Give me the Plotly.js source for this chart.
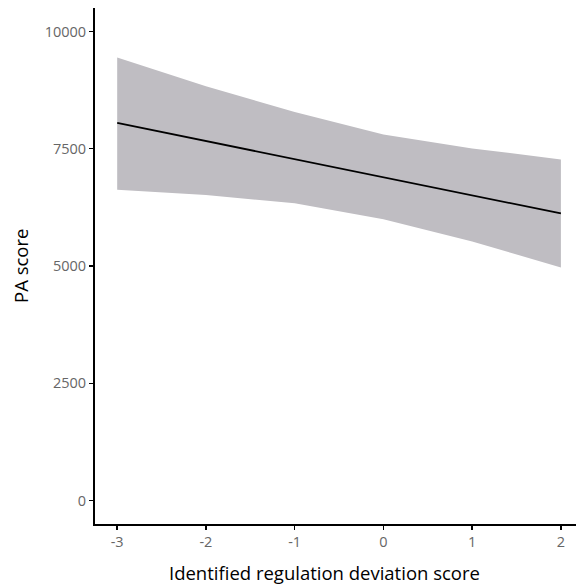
<!DOCTYPE html>
<html>
<head>
<meta charset="utf-8">
<script src="https://cdn.plot.ly/plotly-3.0.1.min.js"></script>
<style>html,body{margin:0;padding:0;background:#fff;}#chart{width:576px;height:587px;}</style>
</head>
<body>
<div id="chart"></div>
<script>
const xVals = [-3, -2, -1, 0, 1, 2];
const fitVals = [8050, 7665, 7290, 6895, 6505, 6120];
const upperVals = [9446, 8830, 8284, 7804, 7506, 7273];
const lowerVals = [6627, 6514, 6338, 5998, 5522, 4970];
const xTicks = [-3, -2, -1, 0, 1, 2];
const yTicks = [0, 2500, 5000, 7500, 10000];

const ribbon = {
  x: xVals.concat(xVals.slice().reverse()),
  y: upperVals.concat(lowerVals.slice().reverse()),
  type: 'scatter', mode: 'lines', fill: 'toself',
  fillcolor: 'rgb(191,189,194)', line: {width: 0, color: 'rgba(0,0,0,0)'},
  hoverinfo: 'skip', showlegend: false
};
const fit = {
  x: xVals, y: fitVals, type: 'scatter', mode: 'lines',
  line: {color: '#000', width: 1.8}, showlegend: false
};
const layout = {
  width: 576, height: 587,
  margin: {l: 95, r: 0, t: 8, b: 63},
  paper_bgcolor: '#fff', plot_bgcolor: '#fff',
  font: {family: '"Open Sans", sans-serif', color: '#000'},
  xaxis: {
    range: [-3.25, 2.17], tickvals: xTicks, ticktext: xTicks.map(String),
    showgrid: false, zeroline: false, showline: true, linecolor: '#000', linewidth: 2,
    ticks: 'outside', ticklen: 4, tickwidth: 1.5, tickcolor: '#000',
    tickfont: {size: 14.5, color: '#666'}
  },
  yaxis: {
    range: [-500, 10500], tickvals: yTicks, ticktext: yTicks.map(String),
    showgrid: false, zeroline: false, showline: true, linecolor: '#000', linewidth: 2,
    ticks: 'outside', ticklen: 4, tickwidth: 1.5, tickcolor: '#000',
    tickfont: {size: 14.5, color: '#666'}
  },
  annotations: [
    {text: 'Identified regulation deviation score', xref: 'paper', yref: 'paper',
     x: 0.478, y: 0, yshift: -35, xanchor: 'center', yanchor: 'top', showarrow: false,
     borderpad: 0, font: {size: 18.5, color: '#000'}},
    {text: 'PA score', xref: 'paper', yref: 'paper', textangle: -90,
     x: 0, xshift: -75, y: 0.5, xanchor: 'center', yanchor: 'middle', showarrow: false,
     font: {size: 18.5, color: '#000'}}
  ]
};
Plotly.newPlot('chart', [ribbon, fit], layout, {displayModeBar: false, staticPlot: true});
</script>
</body>
</html>
